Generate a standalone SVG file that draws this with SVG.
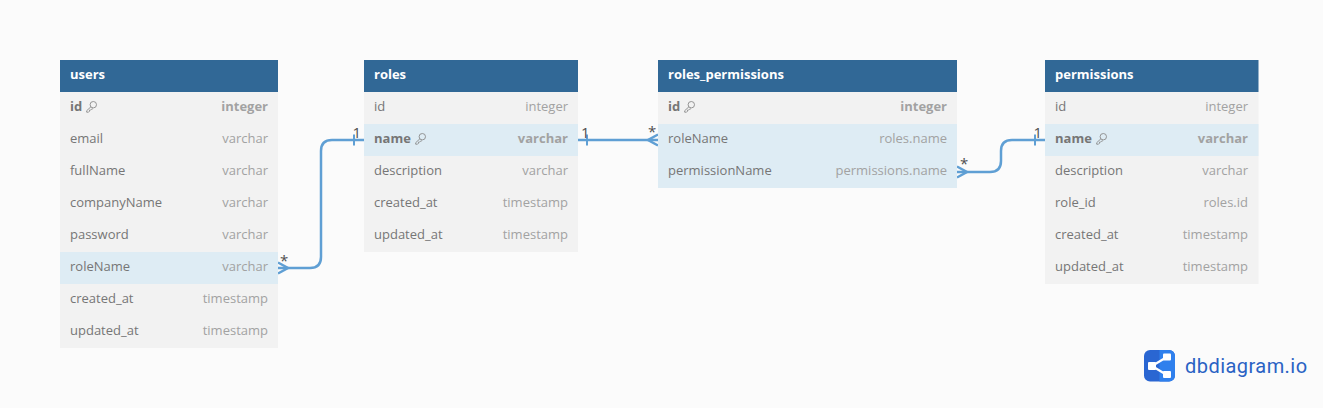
<svg xmlns="http://www.w3.org/2000/svg" width="1323" height="408" viewBox="0 0 1323 408">
<style>
text{font-family:"Open Sans","Noto Sans",sans-serif;font-size:13px}
.h{fill:#316896}
.b{fill:#f2f2f2}
.s{fill:#deecf4}
.t{fill:#fff;font-weight:700}
.n{fill:#767676}
.k{fill:#767676;font-weight:700}
.y{fill:#a2a2a2;text-anchor:end}
.yk{fill:#a2a2a2;text-anchor:end;font-weight:700}
.c{fill:none;stroke:#5f9fd4;stroke-width:2.500}
.tick{stroke-width:2}
.l{fill:#4f4f4f;font-size:15px}
.key{fill:none;stroke:#8a8a8a;stroke-width:.9}
</style>
<defs>
<g id="key"><circle cx="7.300" cy="3.700" r="3.200" class="key"/><path d="M4.900 5.800L.7 9.700v1.500h1.800l1-1v-1.100h1.100l.7-.8.9-.2.8-.7" class="key"/></g>
</defs>
<rect width="1323" height="408" fill="#fbfbfb"/>
<g id="connectors">
<path class="c" d="M278 268H310Q321 268 321 257V151Q321 140 332 140H364"/>
<path class="c" d="M278 262.500L288 268L278 273.500"/>
<path class="c tick" d="M354 134.500V145.500"/>
<path class="c" d="M578 140H658"/>
<path class="c tick" d="M587 134.500V145.500"/>
<path class="c" d="M658 134.500L648 140L658 145.500"/>
<path class="c" d="M957 172H990Q1001 172 1001 161V151Q1001 140 1012 140H1045"/>
<path class="c" d="M957 166.500L967 172L957 177.500"/>
<path class="c tick" d="M1035 134.500V145.500"/>
<text class="l" x="280" y="266">*</text>
<text class="l" x="352.500" y="138">1</text>
<text class="l" x="581" y="138">1</text>
<text class="l" x="648" y="137">*</text>
<text class="l" x="960" y="169">*</text>
<text class="l" x="1033.500" y="138">1</text>
</g>
<g id="users">
<rect class="h" x="60" y="60" width="218" height="32"/>
<rect class="b" x="60" y="92" width="218" height="256"/>
<rect class="s" x="60" y="252" width="218" height="32"/>
<text class="t" x="70" y="79">users</text>
<text class="k" x="70" y="111">id</text><use href="#key" x="86" y="101"/><text class="yk" x="268" y="111">integer</text>
<text class="n" x="70" y="143">email</text><text class="y" x="268" y="143">varchar</text>
<text class="n" x="70" y="175">fullName</text><text class="y" x="268" y="175">varchar</text>
<text class="n" x="70" y="207">companyName</text><text class="y" x="268" y="207">varchar</text>
<text class="n" x="70" y="239">password</text><text class="y" x="268" y="239">varchar</text>
<text class="n" x="70" y="271">roleName</text><text class="y" x="268" y="271">varchar</text>
<text class="n" x="70" y="303">created_at</text><text class="y" x="268" y="303">timestamp</text>
<text class="n" x="70" y="335">updated_at</text><text class="y" x="268" y="335">timestamp</text>
</g>
<g id="roles">
<rect class="h" x="364" y="60" width="214" height="32"/>
<rect class="b" x="364" y="92" width="214" height="160"/>
<rect class="s" x="364" y="124" width="214" height="32"/>
<text class="t" x="374" y="79">roles</text>
<text class="n" x="374" y="111">id</text><text class="y" x="568" y="111">integer</text>
<text class="k" x="374" y="143">name</text><use href="#key" x="415" y="133"/><text class="yk" x="568" y="143">varchar</text>
<text class="n" x="374" y="175">description</text><text class="y" x="568" y="175">varchar</text>
<text class="n" x="374" y="207">created_at</text><text class="y" x="568" y="207">timestamp</text>
<text class="n" x="374" y="239">updated_at</text><text class="y" x="568" y="239">timestamp</text>
</g>
<g id="roles_permissions">
<rect class="h" x="658" y="60" width="299" height="32"/>
<rect class="b" x="658" y="92" width="299" height="96"/>
<rect class="s" x="658" y="124" width="299" height="64"/>
<text class="t" x="668" y="79">roles_permissions</text>
<text class="k" x="668" y="111">id</text><use href="#key" x="684" y="101"/><text class="yk" x="947" y="111">integer</text>
<text class="n" x="668" y="143">roleName</text><text class="y" x="947" y="143">roles.name</text>
<text class="n" x="668" y="175">permissionName</text><text class="y" x="947" y="175">permissions.name</text>
</g>
<g id="permissions">
<rect class="h" x="1045" y="60" width="213.500" height="32"/>
<rect class="b" x="1045" y="92" width="213.500" height="192"/>
<rect class="s" x="1045" y="124" width="213.500" height="32"/>
<text class="t" x="1055" y="79">permissions</text>
<text class="n" x="1055" y="111">id</text><text class="y" x="1248" y="111">integer</text>
<text class="k" x="1055" y="143">name</text><use href="#key" x="1096" y="133"/><text class="yk" x="1248" y="143">varchar</text>
<text class="n" x="1055" y="175">description</text><text class="y" x="1248" y="175">varchar</text>
<text class="n" x="1055" y="207">role_id</text><text class="y" x="1248" y="207">roles.id</text>
<text class="n" x="1055" y="239">created_at</text><text class="y" x="1248" y="239">timestamp</text>
<text class="n" x="1055" y="271">updated_at</text><text class="y" x="1248" y="271">timestamp</text>
</g>
<g id="logo">
<rect x="1144" y="350" width="31" height="31.500" rx="6" fill="#2a66d2"/>
<path d="M1159.500 350h9.500a6 6 0 0 1 6 6v19.500a6 6 0 0 1-6 6h-9.500z" fill="#2f80ed"/>
<path d="M1152 366L1166 357.500M1152 366L1166 374.500" stroke="#fff" stroke-width="2.200" fill="none"/>
<rect x="1148" y="362" width="8" height="8" rx="1" fill="#fff"/>
<rect x="1163" y="353.500" width="8" height="7" rx="1" fill="#fff"/>
<rect x="1163" y="371" width="8" height="7" rx="1" fill="#fff"/>
<text x="1185" y="373" style="font-size:20px;fill:#2a62c4;font-family:Roboto,'Open Sans',sans-serif;font-weight:400;letter-spacing:.45px">dbdiagram.io</text>
</g>
</svg>
